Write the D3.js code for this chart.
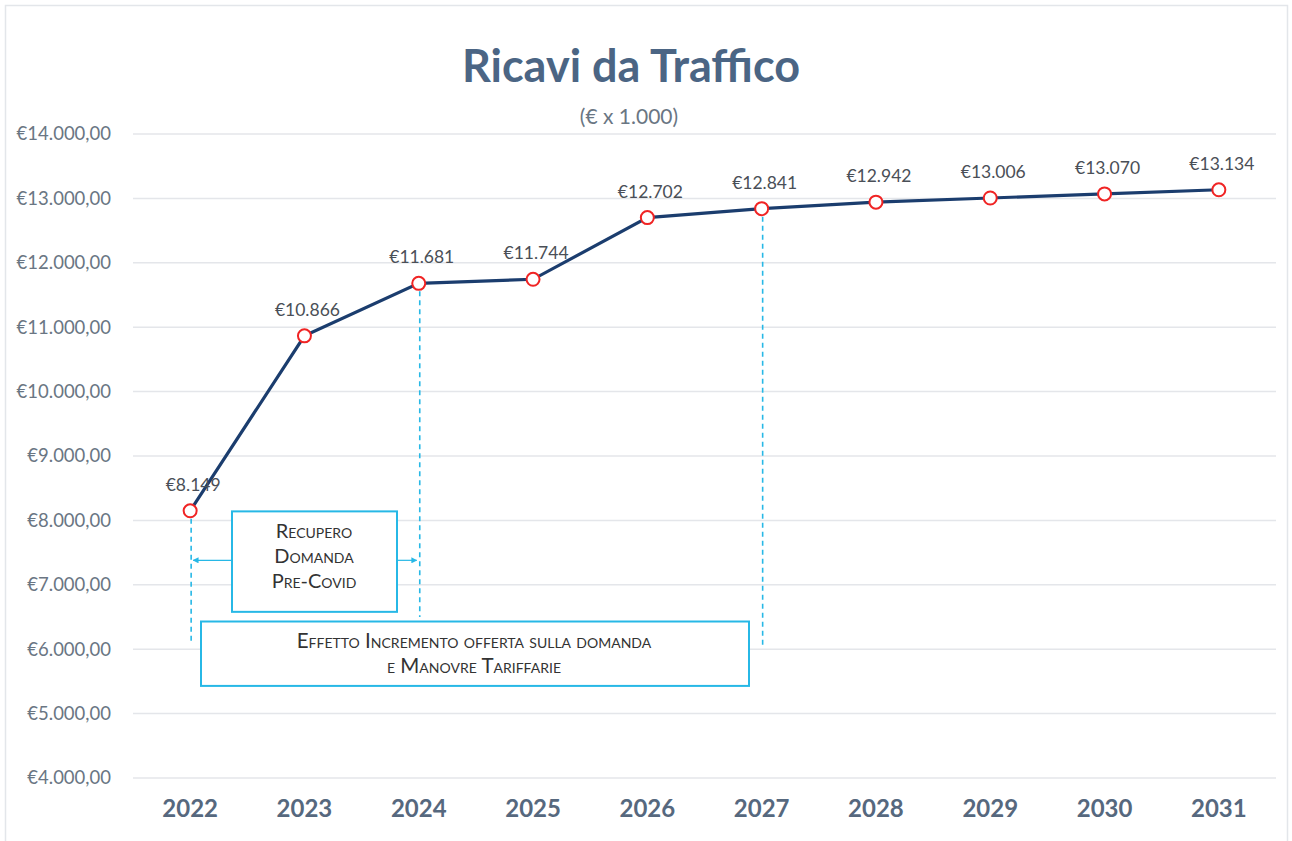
<!DOCTYPE html>
<html>
<head>
<meta charset="utf-8">
<script src="https://cdn.jsdelivr.net/npm/d3@7"></script>
<style>
  body { margin: 0; background: #fff; }
  #chart { width: 1292px; height: 841px; }
  text { font-family: Lato, "Open Sans", sans-serif; }
</style>
</head>
<body>
<div id="chart"></div>
<script>
// data
var years = ['2022', '2023', '2024', '2025', '2026', '2027', '2028', '2029', '2030', '2031'];
var ricavi = [8149, 10866, 11681, 11744, 12702, 12841, 12942, 13006, 13070, 13134];
var yTicks = [4000, 5000, 6000, 7000, 8000, 9000, 10000, 11000, 12000, 13000, 14000];

var width = 1292, height = 841;
var margin = { top: 134, bottom: 63, left: 133, right: 16 };

var svg = d3.select('#chart')
    .append('svg')
    .attr('width', width)
    .attr('height', height);

// outer frame
svg.append('rect')
    .attr('x', 5.5).attr('y', 5.5)
    .attr('width', 1282).attr('height', 840)
    .attr('fill', 'none')
    .attr('stroke', '#e3e6ea')
    .attr('stroke-width', 1.5);

var x_scale = d3.scaleBand()
    .domain(years)
    .range([margin.left, width - margin.right]);

var y_scale = d3.scaleLinear()
    .domain([4000, 14000])
    .range([height - margin.bottom, margin.top]);

var fmtTick = function (d) {
    return '€' + d3.format(',.2f')(d).replace(/,/g, '#').replace('.', ',').replace(/#/g, '.');
};
var fmtVal = function (d) {
    return '€' + d3.format(',')(d).replace(/,/g, '.');
};

// gridlines
svg.append('g')
    .selectAll('line')
    .data(yTicks)
    .enter().append('line')
    .attr('x1', margin.left)
    .attr('x2', width - margin.right)
    .attr('y1', d => y_scale(d))
    .attr('y2', d => y_scale(d))
    .attr('stroke', '#e4e6ea')
    .attr('stroke-width', 1.5);

// y axis
var y_axis = d3.axisLeft(y_scale).tickValues(yTicks).tickFormat(fmtTick).tickSize(0).tickPadding(0);
var gy = svg.append('g')
    .attr('class', 'y axis')
    .attr('transform', 'translate(111,0)')
    .call(y_axis);
gy.select('.domain').remove();
gy.selectAll('text')
    .attr('fill', '#6a7683')
    .style('font-size', '18.5px');

// x axis
var x_axis = d3.axisBottom(x_scale).tickSize(0).tickPadding(0);
var gx = svg.append('g')
    .attr('class', 'x axis')
    .attr('transform', 'translate(0,' + 800 + ')')
    .call(x_axis);
gx.select('.domain').remove();
gx.selectAll('text')
    .attr('fill', '#56687e')
    .style('font-size', '24px')
    .style('font-weight', 'bold');

// title
svg.append('text')
    .attr('x', 631).attr('y', 82)
    .attr('text-anchor', 'middle')
    .attr('fill', '#4b6584')
    .style('font-size', '45px')
    .style('font-weight', 'bold')
    .text('Ricavi da Traffico');

svg.append('text')
    .attr('x', 629).attr('y', 124)
    .attr('text-anchor', 'middle')
    .attr('fill', '#6a7683')
    .style('font-size', '21px')
    .text('(€ x 1.000)');

var cx = d => x_scale(d) + x_scale.bandwidth() / 2;

// annotations (dashed guides)
var cyan = '#27b8e6';
var guides = [
    { year: '2022', y1: 8149, y2: 6130 },
    { year: '2024', y1: 11681, y2: 6500 },
    { year: '2027', y1: 12841, y2: 6050 }
];
svg.append('g')
    .selectAll('line')
    .data(guides)
    .enter().append('line')
    .attr('x1', d => cx(d.year) + 1)
    .attr('x2', d => cx(d.year) + 1)
    .attr('y1', d => y_scale(d.y1) + 8)
    .attr('y2', d => y_scale(d.y2))
    .attr('stroke', cyan)
    .attr('stroke-width', 1.6)
    .attr('stroke-dasharray', '5,4');

// arrow markers
var defs = svg.append('defs');
defs.append('marker')
    .attr('id', 'arr')
    .attr('viewBox', '0 0 10 10')
    .attr('refX', 9).attr('refY', 5)
    .attr('markerWidth', 5).attr('markerHeight', 5)
    .attr('orient', 'auto')
    .append('path')
    .attr('d', 'M0,0L10,5L0,10z')
    .attr('fill', cyan);

var arrowY = y_scale(7380);
var box1 = { x1: 232, x2: 397 };
svg.append('line')
    .attr('x1', box1.x1).attr('x2', cx('2022') + 3)
    .attr('y1', arrowY).attr('y2', arrowY)
    .attr('stroke', cyan).attr('stroke-width', 1.2)
    .attr('marker-end', 'url(#arr)');
svg.append('line')
    .attr('x1', box1.x2).attr('x2', cx('2024') - 2)
    .attr('y1', arrowY).attr('y2', arrowY)
    .attr('stroke', cyan).attr('stroke-width', 1.2)
    .attr('marker-end', 'url(#arr)');

// boxes
svg.append('rect')
    .attr('x', 232).attr('y', y_scale(8140))
    .attr('width', 165).attr('height', y_scale(6580) - y_scale(8140))
    .attr('fill', '#fff').attr('stroke', cyan).attr('stroke-width', 2);

svg.append('rect')
    .attr('x', 201).attr('y', y_scale(6430))
    .attr('width', 548).attr('height', y_scale(5430) - y_scale(6430))
    .attr('fill', '#fff').attr('stroke', cyan).attr('stroke-width', 2);

var boxText1 = ['Recupero', 'Domanda', 'Pre-Covid'];
svg.append('g')
    .selectAll('text')
    .data(boxText1)
    .enter().append('text')
    .attr('x', 314)
    .attr('y', (d, i) => 538 + i * 25)
    .attr('text-anchor', 'middle')
    .attr('fill', '#333')
    .style('font-size', '20px')
    .style('font-variant', 'small-caps')
    .text(d => d);

var boxText2 = ['Effetto Incremento offerta sulla domanda', 'e Manovre Tariffarie'];
svg.append('g')
    .selectAll('text')
    .data(boxText2)
    .enter().append('text')
    .attr('x', 474)
    .attr('y', (d, i) => 648 + i * 25)
    .attr('text-anchor', 'middle')
    .attr('fill', '#333')
    .style('font-size', '20.5px')
    .style('font-variant', 'small-caps')
    .text(d => d);

// line
var line = d3.line()
    .x((d, i) => cx(years[i]))
    .y(d => y_scale(d));

svg.append('path')
    .datum(ricavi)
    .attr('d', line)
    .attr('fill', 'none')
    .attr('stroke', '#1b3d6e')
    .attr('stroke-width', 3.2);

svg.append('g')
    .selectAll('circle')
    .data(ricavi)
    .enter().append('circle')
    .attr('cx', (d, i) => cx(years[i]))
    .attr('cy', d => y_scale(d))
    .attr('r', 6.5)
    .attr('fill', '#fff')
    .attr('stroke', '#f02424')
    .attr('stroke-width', 2);

// data labels
svg.append('g')
    .selectAll('text')
    .data(ricavi)
    .enter().append('text')
    .attr('x', (d, i) => cx(years[i]) + 3)
    .attr('y', d => y_scale(d) - 20)
    .attr('text-anchor', 'middle')
    .attr('fill', '#4a4f57')
    .style('font-size', '17.5px')
    .text(d => fmtVal(d));
</script>
</body>
</html>
